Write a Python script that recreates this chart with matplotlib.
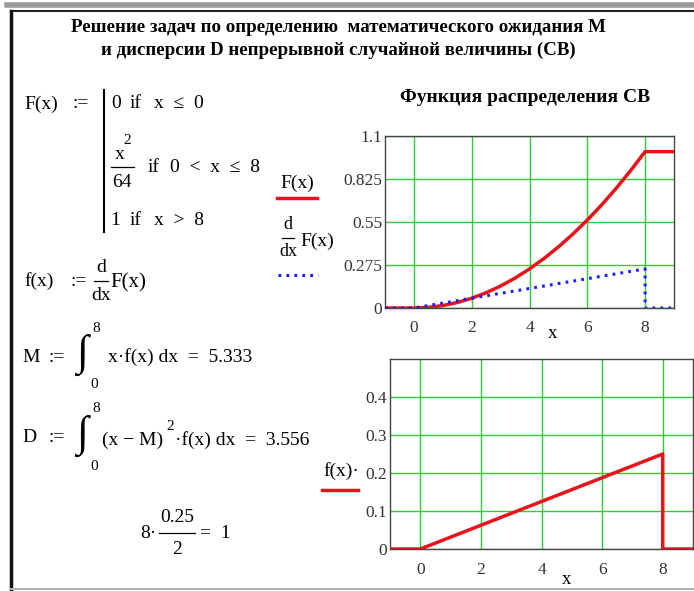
import matplotlib.pyplot as plt
from matplotlib.lines import Line2D

# worksheet size in pixels
W, H = 694, 591

# F(x) = x^2/64 on (0, 8], 0 to the left, 1 to the right
cdf_x = [-1, 0, 0.5, 1, 1.5, 2, 2.5, 3, 3.5, 4, 4.5, 5, 5.5, 6, 6.5, 7, 7.5, 8, 9]
cdf_y = [0, 0, 0.0039, 0.0156, 0.0352, 0.0625, 0.0977, 0.1406, 0.1914, 0.25,
         0.3164, 0.3906, 0.4727, 0.5625, 0.6602, 0.7656, 0.8789, 1.0, 1.0]

# f(x) = dF/dx = x/32 on (0, 8]
pdf_x = [-1, 0, 8, 8, 9]
pdf_y = [0, 0, 0.25, 0, 0]

x_ticks = [0, 2, 4, 6, 8]
cdf_yticks = [0, 0.275, 0.55, 0.825, 1.1]
pdf_yticks = [0, 0.1, 0.2, 0.3, 0.4]

M_value = 5.333
D_value = 3.556

plt.rcParams['font.family'] = ['Liberation Serif', 'DejaVu Serif']

fig = plt.figure(figsize=(W / 100, H / 100), dpi=100)
fig.patch.set_facecolor('white')

FS = 14      # formula text
SUP = 11     # exponents and limits
TS = 12.5    # tick labels
GRID = '#33cc33'
RED = '#e8141c'
BLUE = '#1a1aff'
DOTS = (0, (0.9, 1.7))


def fx(x):
    return x / W


def fy(y):
    return 1 - y / H


def txt(x, y, s, size=FS, ha='left', va='center', **kw):
    fig.text(fx(x), fy(y), s, fontsize=size, ha=ha, va=va, **kw)


def seg(x0, y0, x1, y1, color='black', lw=1.0, **kw):
    fig.add_artist(Line2D([fx(x0), fx(x1)], [fy(y0), fy(y1)],
                          color=color, lw=lw, transform=fig.transFigure, **kw))


def frac(xc, y, num, den, half, size=FS, gap=14):
    txt(xc, y - gap, num, size=size, ha='center')
    seg(xc - half, y, xc + half, y, lw=0.9)
    txt(xc, y + gap + 1, den, size=size, ha='center')


def integral(x, y, upper, lower):
    txt(x, y, '∫', size=31)
    txt(x + 20, y - 27, upper, size=SUP, ha='center')
    txt(x + 18, y + 30, lower, size=SUP, ha='center')


def setup_axes(ax, ylim, yticks):
    ax.set_xlim(-1, 9)
    ax.set_ylim(*ylim)
    ax.set_xticks(x_ticks)
    ax.set_yticks(yticks)
    ax.set_yticklabels([f'{v:g}' for v in yticks])
    ax.tick_params(length=0, labelsize=TS, labelcolor='#333333')
    ax.tick_params(axis='x', pad=9)
    ax.tick_params(axis='y', pad=2)
    ax.grid(True, color=GRID, lw=1.0)
    ax.set_axisbelow(True)
    for sp in ax.spines.values():
        sp.set_color('#444444')
        sp.set_linewidth(1.0)


# worksheet frame
seg(7, 5, W, 5, color='#9a9a9a', lw=4)
seg(11, 11, W, 11, color='#222222', lw=1.5)
seg(11, 11, 11, H, color='#111111', lw=2.5)
seg(11, 589, W, 589, color='#b0b0b0', lw=1.5)

# heading
txt(338, 28, 'Решение задач по определению  математического ожидания М',
    size=13.6, ha='center', weight='bold')
txt(338, 50, 'и дисперсии D непрерывной случайной величины (СВ)',
    size=13.6, ha='center', weight='bold')

# F(x) definition
txt(24, 104, 'F(x)')
txt(72, 104, ':=')
seg(104, 90, 104, 232, lw=1.5)
txt(111, 104, '0')
txt(130, 104, 'if')
txt(154, 104, 'x  ≤  0')
txt(120, 155, 'x', ha='center')
txt(127, 140, '2', size=SUP, ha='center')
seg(111, 167, 134, 167, lw=0.9)
txt(122, 183, '64', ha='center')
txt(148, 167, 'if')
txt(170, 167, '0  <  x  ≤  8')
txt(110, 220, '1')
txt(130, 220, 'if')
txt(154, 220, 'x  >  8')

# f(x) definition
txt(24, 281, 'f(x)')
txt(70, 281, ':=')
frac(101, 281, 'd', 'dx', 7)
txt(110, 283, 'F(x)', size=15)

# expectation
txt(22, 357, 'M')
txt(48, 357, ':=')
integral(76, 355, '8', '0')
txt(108, 357, f'x·f(x) dx  =  {M_value:.3f}')

# variance
txt(22, 438, 'D')
txt(48, 438, ':=')
integral(76, 436, '8', '0')
txt(102, 440, '(x − M)')
txt(170, 427, '2', size=SUP, ha='center')
txt(175, 440, f'·f(x) dx  =  {D_value:.3f}')

# area under the density
x_end = pdf_x[2]
peak = max(pdf_y)
txt(140, 533, f'{x_end:g}·')
frac(177, 533, f'{peak:g}', '2', 18, gap=15)
txt(200, 534, f'=  {x_end * peak / 2:g}')

# distribution function plot
txt(525, 97, 'Функция распределения СВ', size=14, ha='center', weight='bold')
ax1 = fig.add_axes([fx(385), fy(308), (674 - 385) / W, (308 - 136) / H])
setup_axes(ax1, (0, 1.1), cdf_yticks)
ax1.plot(cdf_x, cdf_y, color=RED, lw=2.5, solid_joinstyle='round', zorder=3)
ax1.plot(pdf_x, pdf_y, color=BLUE, lw=2.2, linestyle=DOTS, zorder=4)
txt(553, 333, 'x', size=TS + 1, ha='center')

# legend labels on the left of the plot
txt(297, 183, 'F(x)', ha='center')
seg(277, 198, 317, 198, color=RED, lw=2.5)
frac(288, 238, 'd', 'dx', 6, size=13, gap=13)
txt(300, 241, 'F(x)', size=14)
seg(278, 275, 318, 275, color=BLUE, lw=2.2, linestyle=DOTS)

# density plot
ax2 = fig.add_axes([fx(390), fy(549), (693 - 390) / W, (549 - 359) / H])
setup_axes(ax2, (0, 0.5), pdf_yticks)
ax2.plot(pdf_x, pdf_y, color=RED, lw=2.5, zorder=3)
txt(567, 579, 'x', size=TS + 1, ha='center')
txt(323, 471, 'f(x)·')
seg(322, 490, 358, 490, color=RED, lw=2.5)

fig.savefig('out.png', dpi=100, facecolor='white')
